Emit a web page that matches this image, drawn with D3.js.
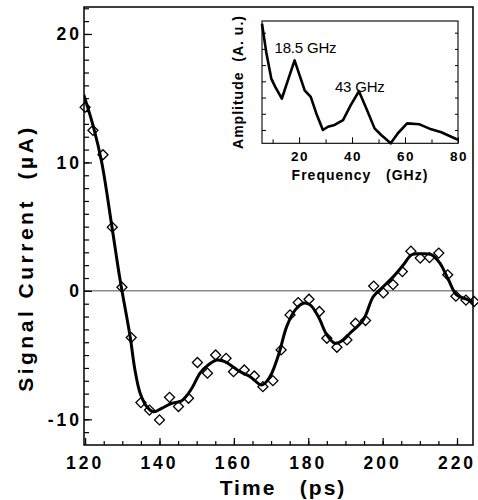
<!DOCTYPE html>
<html><head><meta charset="utf-8">
<script src="https://cdnjs.cloudflare.com/ajax/libs/d3/7.8.5/d3.min.js"></script>
<style>
html,body{margin:0;padding:0;background:#fff;}
svg{display:block;font-family:"Liberation Sans",Arial,Helvetica,sans-serif;}
</style></head>
<body><svg id="c" width="478" height="500"></svg>
<script>
// ---- data ----
const timePs = [120, 122.1, 124.8, 127.3, 129.9, 132.4, 135.0, 137.3, 140.0, 142.7, 145.1, 147.8, 150.2, 152.9, 155.1, 157.9, 159.9, 162.8, 165.5, 167.8, 170.5, 172.7, 175.1, 177.3, 180.2, 183.0, 185.0, 187.7, 190.4, 192.7, 195.4, 197.6, 200.2, 202.8, 205.3, 207.6, 210.1, 212.6, 215.1, 217.5, 219.7, 222.4, 224.6];
const signalUA = [14.3, 12.5, 10.6, 4.96, 0.29, -3.64, -8.7, -9.28, -10.05, -8.29, -9.0, -8.36, -5.58, -6.41, -4.99, -5.25, -6.29, -6.16, -6.63, -7.46, -6.99, -4.60, -1.87, -0.91, -0.65, -1.61, -3.69, -4.39, -3.82, -2.52, -2.31, 0.37, -0.16, 0.49, 1.50, 3.09, 2.55, 2.59, 2.94, 1.25, -0.41, -0.72, -0.83];
const fitTime = [119.6, 122.2, 124.5, 127.2, 129.4, 132.1, 133.4, 134.8, 136.6, 138.4, 140.6, 143.3, 146.0, 148.7, 150.9, 153.1, 155.4, 157.6, 159.9, 161.7, 164.4, 167.5, 169.7, 172.0, 174.2, 176.5, 178.7, 180.5, 182.7, 185.0, 187.2, 189.4, 191.2, 194.8, 197.5, 200.2, 202.9, 205.6, 207.8, 210.5, 213.2, 215.4, 217.7, 219.9, 222.6, 224.8];
const fitSignal = [15.3, 12.8, 9.95, 5.01, 0.86, -3.56, -6.16, -7.97, -9.02, -9.41, -9.14, -8.75, -8.55, -7.58, -6.41, -5.77, -5.38, -5.51, -5.95, -6.29, -6.68, -7.33, -6.68, -4.99, -2.78, -1.48, -0.96, -1.09, -2.0, -3.43, -4.08, -3.82, -3.3, -2.26, -0.44, 0.34, 1.11, 2.03, 2.81, 2.88, 2.81, 2.16, 0.86, -0.31, -0.65, -0.96];
const xTicks = [120, 140, 160, 180, 200, 220];
const yTicks = [-10, 0, 10, 20];
// inset spectrum
const freqGHz = [6.0, 7.6, 9.5, 11.0, 13.5, 15.8, 18.3, 20.2, 22.1, 24.4, 26.5, 29.0, 30.9, 33.4, 36.6, 39.5, 42.6, 45.4, 48.5, 51.0, 54.6, 57.3, 60.8, 65.5, 69.9, 73.7, 78.7, 80.0];
const amplitude = [7.55, 5.80, 4.17, 3.66, 2.94, 4.07, 5.29, 4.37, 3.45, 3.04, 2.02, 1.0, 1.2, 1.31, 1.61, 2.53, 3.39, 2.33, 1.10, 0.69, 0.18, 0.80, 1.41, 1.35, 1.04, 0.86, 0.49, 0.39];
const insetXTicks = [20, 40, 60, 80];
const peakLabels = ["18.5 GHz", "43 GHz"];
const peakFreq = [18.3, 42.6];

// ---- layout ----
const svg = d3.select("#c");
const L = 84, R = 473, T = 7, B = 445;
const x = d3.scaleLinear().domain([119.7, 224.3]).range([L, R]);
const y = d3.scaleLinear().domain([-12, 22.1]).range([B, T]);

svg.append("defs").append("clipPath").attr("id","clip")
  .append("rect").attr("x",L).attr("y",T).attr("width",R-L).attr("height",B-T);

// zero line
svg.append("line").attr("x1",L).attr("x2",R).attr("y1",y(0)).attr("y2",y(0))
  .attr("stroke","#8a8a8a").attr("stroke-width",1.5);

// minor/major ticks, inward
const gx = svg.append("g").attr("transform",`translate(0,${B})`)
  .call(d3.axisBottom(x).tickValues(d3.range(125,224,5)).tickSize(-4).tickFormat(""));
const gx2 = svg.append("g").attr("transform",`translate(0,${B})`)
  .call(d3.axisBottom(x).tickValues(xTicks).tickSize(-7).tickFormat(""));
const gy = svg.append("g").attr("transform",`translate(${L},0)`)
  .call(d3.axisLeft(y).tickValues(d3.range(-11,23,1)).tickSize(-5).tickFormat(""));
const gy2 = svg.append("g").attr("transform",`translate(${L},0)`)
  .call(d3.axisLeft(y).tickValues(yTicks).tickSize(-8).tickFormat(""));
[gx,gx2,gy,gy2].forEach(g=>{g.select(".domain").remove();g.selectAll("line").attr("stroke","#000").attr("stroke-width",1.2);});

// tick labels
svg.append("g").selectAll("text").data(xTicks).join("text")
  .attr("x",d=>x(d)).attr("y",469).attr("text-anchor","middle")
  .attr("font-size",17.5).attr("font-weight","bold").attr("letter-spacing",3)
  .text(d=>d);
svg.append("g").selectAll("text").data(yTicks).join("text")
  .attr("x",82).attr("y",d=>y(d)).attr("dy","0.36em").attr("text-anchor","end")
  .attr("font-size",17.5).attr("font-weight","bold").attr("letter-spacing",3)
  .text(d=>d);

// axis titles
svg.append("text").attr("x",283).attr("y",495).attr("text-anchor","middle")
  .attr("font-size",21).attr("font-weight","bold").attr("letter-spacing",2).attr("xml:space","preserve")
  .text("Time   (ps)");
svg.append("text").attr("transform","translate(33,258) rotate(-90)").attr("text-anchor","middle")
  .attr("font-size",21).attr("font-weight","bold").attr("letter-spacing",3.5).attr("xml:space","preserve")
  .text("Signal Current  (\u00b5A)");

// data diamonds
const sq = d3.symbol().type(d3.symbolSquare).size(50);
svg.append("g").selectAll("path").data(timePs.map((t,i)=>[t,signalUA[i]])).join("path")
  .attr("d",sq).attr("transform",d=>`translate(${x(d[0])},${y(d[1])}) rotate(45)`)
  .attr("fill","#fff").attr("stroke","#000").attr("stroke-width",1.3);

// fit line
svg.append("path").attr("clip-path","url(#clip)")
  .datum(fitTime.map((t,i)=>[t,fitSignal[i]]))
  .attr("d",d3.line().x(d=>x(d[0])).y(d=>y(d[1])).curve(d3.curveCatmullRom.alpha(0.5)))
  .attr("fill","none").attr("stroke","#000").attr("stroke-width",3).attr("stroke-linejoin","round");

// frame
svg.append("rect").attr("x",L).attr("y",T).attr("width",R-L).attr("height",B-T)
  .attr("fill","none").attr("stroke","#000").attr("stroke-width",1.5);

// ---- inset ----
const iL = 262, iR = 458, iT = 21, iB = 143.3;
const fx = d3.scaleLinear().domain([6, 80]).range([iL, iR]);
const ay = d3.scaleLinear().domain([0.18, 7.72]).range([iB, iT]);
const ig1 = svg.append("g").attr("transform",`translate(0,${iB})`)
  .call(d3.axisBottom(fx).tickValues([10,30,50,70]).tickSize(-4).tickFormat(""));
const ig2 = svg.append("g").attr("transform",`translate(0,${iB})`)
  .call(d3.axisBottom(fx).tickValues(insetXTicks).tickSize(-6).tickFormat(""));
const ig3 = svg.append("g").attr("transform",`translate(${iL},0)`)
  .call(d3.axisLeft(ay).tickValues(d3.range(1,8)).tickSize(-4).tickFormat(""));
const ig4 = svg.append("g").attr("transform",`translate(${iR},0)`)
  .call(d3.axisRight(ay).tickValues(d3.range(1,8)).tickSize(-3).tickFormat(""));
[ig1,ig2,ig3,ig4].forEach(g=>{g.select(".domain").remove();g.selectAll("line").attr("stroke","#000").attr("stroke-width",1);});

svg.append("path").datum(freqGHz.map((f,i)=>[f,amplitude[i]]))
  .attr("d",d3.line().x(d=>fx(d[0])).y(d=>ay(d[1])))
  .attr("fill","none").attr("stroke","#000").attr("stroke-width",2.6).attr("stroke-linejoin","round");

svg.append("rect").attr("x",iL).attr("y",iT).attr("width",iR-iL).attr("height",iB-iT)
  .attr("fill","none").attr("stroke","#000").attr("stroke-width",1.1);

svg.append("g").selectAll("text").data(insetXTicks).join("text")
  .attr("x",d=>fx(d)+1).attr("y",160.5).attr("text-anchor","middle")
  .attr("font-size",13.5).attr("font-weight","bold").attr("letter-spacing",1.5)
  .text(d=>d);
svg.append("text").attr("x",360).attr("y",180).attr("text-anchor","middle")
  .attr("font-size",14).attr("font-weight","bold").attr("letter-spacing",1).attr("xml:space","preserve")
  .text("Frequency   (GHz)");
svg.append("text").attr("transform","translate(243,82) rotate(-90)").attr("text-anchor","middle")
  .attr("font-size",14).attr("font-weight","bold").attr("letter-spacing",1).attr("xml:space","preserve")
  .text("Amplitude  (A. u.)");

// peak labels
svg.append("g").selectAll("text").data(peakLabels).join("text")
  .attr("x",(d,i)=>i===0 ? fx(peakFreq[i])-20 : fx(peakFreq[i])-24)
  .attr("y",(d,i)=>i===0 ? 53 : 91.5)
  .attr("font-size",15).attr("letter-spacing",-0.2)
  .text(d=>d);
</script></body></html>
